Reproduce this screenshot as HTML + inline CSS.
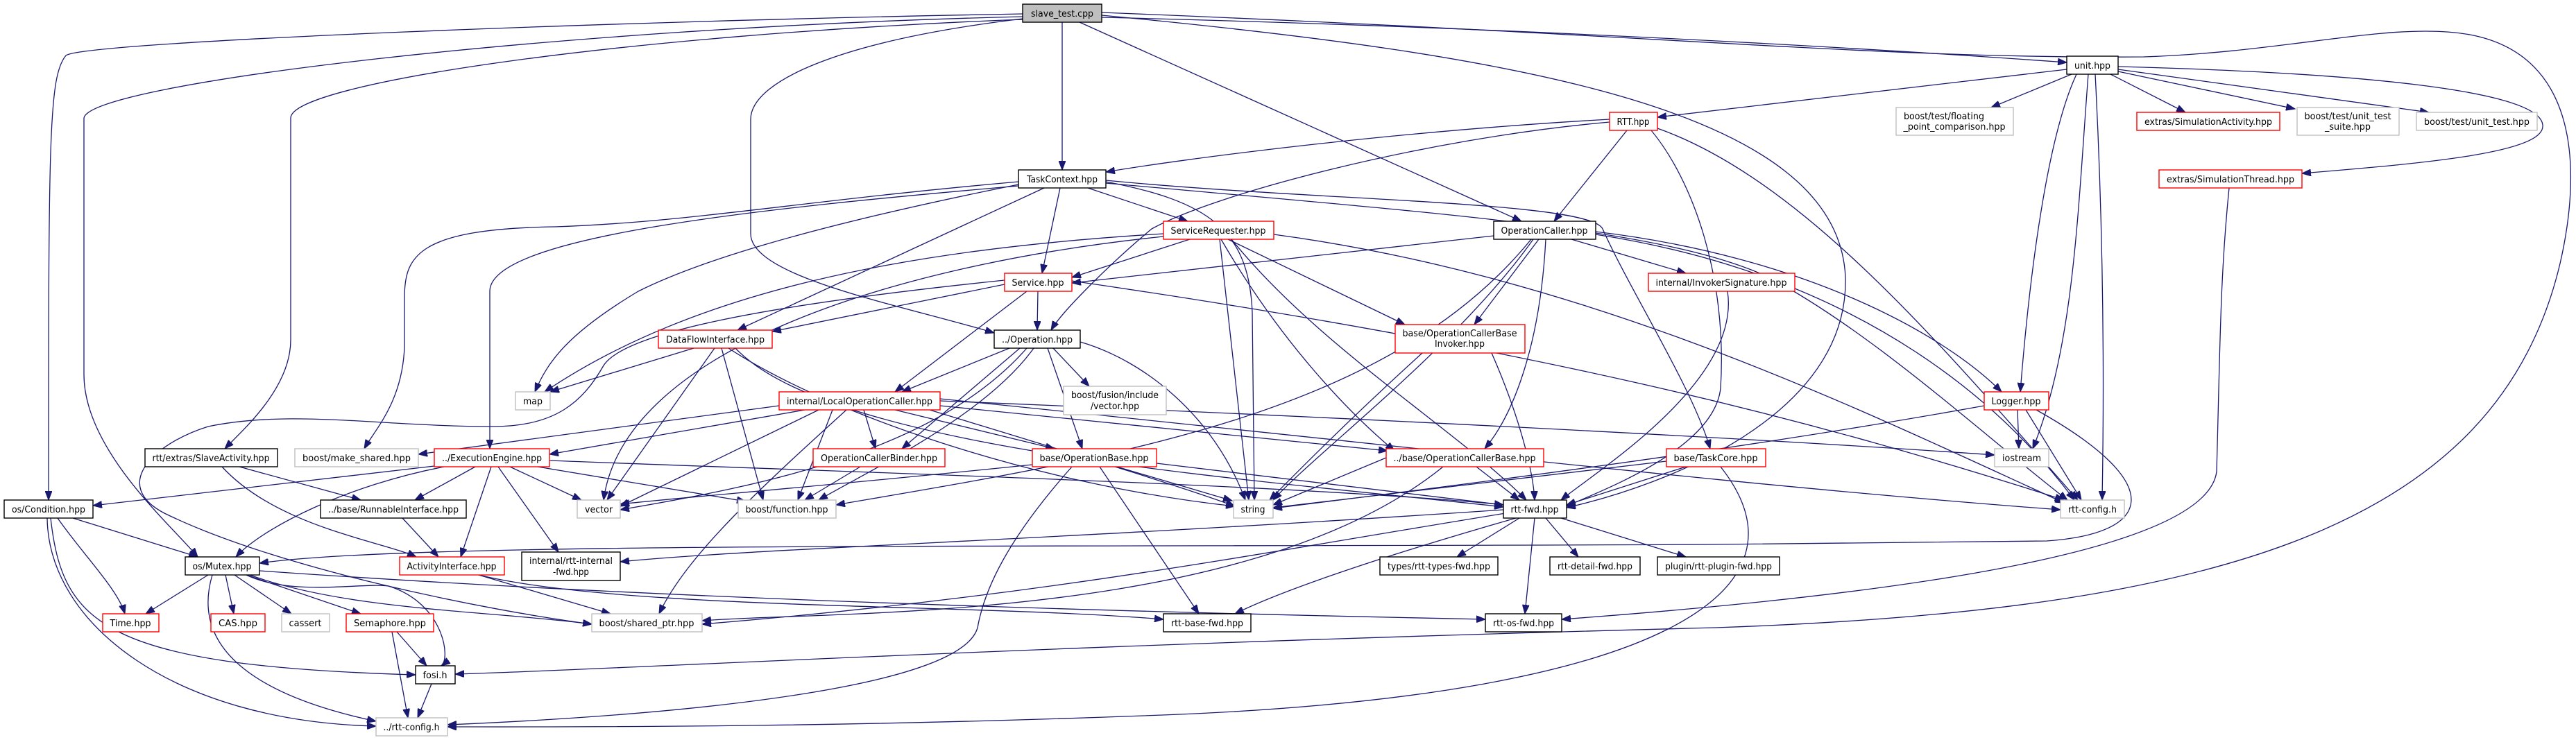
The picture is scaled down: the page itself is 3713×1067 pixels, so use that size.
<!DOCTYPE html>
<html><head><meta charset="utf-8"><style>
html,body{margin:0;padding:0;background:#fff;}
svg{display:block;}
text{font-family:"DejaVu Sans","Liberation Sans",sans-serif;font-size:13px;fill:#000;}
.e{fill:none;stroke:#191970;stroke-width:1.3;marker-end:url(#a);}
.b{fill:#fff;stroke:#000;stroke-width:1.4;}
.r{fill:#fff;stroke:#ff0000;stroke-width:1.4;}
.g{fill:#fff;stroke:#bfbfbf;stroke-width:1.4;}
</style></head><body>
<svg width="3713" height="1067" viewBox="0 0 3713 1067" xmlns="http://www.w3.org/2000/svg">
<defs><marker id="a" markerUnits="userSpaceOnUse" markerWidth="14" markerHeight="10" refX="13" refY="5" orient="auto"><path d="M0,0 L13,5 L0,10 z" fill="#191970" stroke="#191970"/></marker></defs>
<g>
<!-- slave_test -->
<path class="e" d="M1531,32 L1531,245"/>
<path class="e" d="M1556,32 L2193,319"/>
<path class="e" d="M1588,25 C2200,40 2700,70 2979,90"/>
<path class="e" d="M1474,20 C900,30 120,60 95,80 C70,110 70,200 70,721"/>
<path class="e" d="M1474,24 C800,40 130,120 121,170 L121,540 C121,650 250,760 285,803"/>
<path class="e" d="M1474,28 C900,50 420,120 419,170 L419,490 C419,560 350,620 324,647"/>
<path class="e" d="M1474,27 C1200,60 1082,120 1082,172 L1082,337 C1082,400 1300,440 1433,480"/>
<path class="e" d="M1588,22 C2200,80 2650,160 2660,400 C2665,600 2400,700 2258,732"/>
<path class="e" d="M1588,18 C2400,50 2700,85 3090,82 C3300,75 3450,30 3560,50 C3720,80 3720,250 3690,380 C3600,760 3200,880 2473,905 C1500,930 900,965 656,972"/>
<!-- unit -->
<path class="e" d="M2979,100 L2389,169"/>
<path class="e" d="M2986,107 L2870,155"/>
<path class="e" d="M3042,107 L3150,162"/>
<path class="e" d="M3053,103 L3308,157"/>
<path class="e" d="M3053,100 L3501,162"/>
<path class="e" d="M3053,96 C3400,105 3660,130 3665,180 C3670,220 3500,235 3318,250"/>
<path class="e" d="M2993,107 C2950,200 2925,400 2912,565"/>
<path class="e" d="M3010,107 C2995,300 2990,500 2930,647"/>
<path class="e" d="M3020,107 C3030,300 3034,500 3030,721"/>
<!-- RTT -->
<path class="e" d="M2320,172 C2000,190 1700,230 1594,248"/>
<path class="e" d="M2345,188 L2240,319"/>
<path class="e" d="M2320,176 C2050,200 1750,280 1660,330 C1600,380 1530,450 1515,476"/>
<path class="e" d="M2380,188 C2440,260 2490,400 2480,560 C2470,650 2300,710 2258,730"/>
<path class="e" d="M2389,185 C2600,260 2800,500 2995,721"/>
<!-- TaskContext -->
<path class="e" d="M1568,271 L1712,319"/>
<path class="e" d="M1528,271 L1502,394"/>
<path class="e" d="M1505,271 L1063,476"/>
<path class="e" d="M1468,268 C1100,300 706,340 706,420 L706,647"/>
<path class="e" d="M1468,262 C1150,290 1000,320 800,327 C600,330 583,370 583,430 L583,500 C580,580 540,620 525,647"/>
<path class="e" d="M1468,266 C1150,330 1000,380 920,420 C820,480 790,520 771,565"/>
<path class="e" d="M1594,262 C1740,290 1800,330 1805,450 L1808,721"/>
<path class="e" d="M1594,260 C1900,290 2290,290 2310,330 C2350,420 2440,560 2465,647"/>
<path class="e" d="M1594,264 C2100,310 2400,330 2550,400 C2700,480 2850,620 2980,721"/>
<!-- ServiceRequester -->
<path class="e" d="M1715,345 L1545,400"/>
<path class="e" d="M1677,337 C1300,360 1000,420 785,565"/>
<path class="e" d="M1677,341 C1300,380 900,500 870,721"/>
<path class="e" d="M1758,345 L1800,721"/>
<path class="e" d="M1770,345 L2025,468"/>
<path class="e" d="M1775,345 C1900,500 2100,620 2200,721"/>
<path class="e" d="M1836,338 C2300,400 2700,600 2975,725"/>
<path class="e" d="M1760,345 C1850,500 1950,600 2010,650"/>
<!-- OperationCaller -->
<path class="e" d="M2153,340 L1545,408"/>
<path class="e" d="M2265,345 L2430,394"/>
<path class="e" d="M2218,345 L2125,468"/>
<path class="e" d="M2228,345 C2220,500 2180,600 2140,647"/>
<path class="e" d="M2210,345 C2100,500 1900,650 1835,721"/>
<path class="e" d="M2300,334 C2600,370 2800,480 2885,565"/>
<path class="e" d="M2207,345 C2000,600 1600,660 1205,728"/>
<path class="e" d="M2300,338 C2700,400 2900,600 2990,721"/>
<path class="e" d="M2490,420 C2510,550 2300,680 2250,721"/>
<!-- Service -->
<path class="e" d="M1496,420 L1495,476"/>
<path class="e" d="M1448,410 L1113,478"/>
<path class="e" d="M1480,420 L1290,565"/>
<path class="e" d="M1448,404 C1100,440 900,480 870,527 C840,580 800,615 711,615 C550,615 420,590 300,615 C220,640 160,700 237,740 C400,820 700,880 853,900"/>
<path class="e" d="M1545,405 C2200,500 2600,600 2975,721"/>
<!-- Operation -->
<path class="e" d="M1455,502 L1300,565"/>
<path class="e" d="M1470,502 L1300,647"/>
<path class="e" d="M1510,502 L1560,647"/>
<path class="e" d="M1518,502 L1570,557"/>
<path class="e" d="M1557,493 C1650,520 1750,600 1795,721"/>
<path class="e" d="M1480,502 C1350,650 1100,700 894,735"/>
<path class="e" d="M1490,502 C1420,600 1250,680 1180,721"/>
<!-- OCBInvoker -->
<path class="e" d="M2050,509 C1950,600 1870,680 1830,721"/>
<path class="e" d="M2150,509 C2190,600 2210,680 2212,721"/>
<!-- DataFlow -->
<path class="e" d="M1000,502 L793,565"/>
<path class="e" d="M1030,502 L875,721"/>
<path class="e" d="M1040,502 L1100,721"/>
<path class="e" d="M1050,502 C1200,600 1500,700 1780,730"/>
<path class="e" d="M1060,502 C1200,650 1800,690 2167,731"/>
<!-- LocalOC -->
<path class="e" d="M1160,591 L792,655"/>
<path class="e" d="M1123,585 L603,655"/>
<path class="e" d="M1245,591 L1262,647"/>
<path class="e" d="M1290,591 L1520,647"/>
<path class="e" d="M1355,585 L2000,650"/>
<path class="e" d="M1200,591 L1150,721"/>
<path class="e" d="M1220,591 C1100,700 990,800 950,885"/>
<path class="e" d="M1340,591 C1500,640 1700,700 1780,730"/>
<path class="e" d="M1355,578 C1900,600 2500,630 2875,656"/>
<path class="e" d="M1355,575 C2000,640 2500,700 2970,735"/>
<path class="e" d="M1180,591 L894,730"/>
<!-- ExecEngine -->
<path class="e" d="M626,672 L134,729"/>
<path class="e" d="M640,673 C500,700 380,760 340,803"/>
<path class="e" d="M685,673 L598,721"/>
<path class="e" d="M708,673 L664,803"/>
<path class="e" d="M735,673 L838,721"/>
<path class="e" d="M718,673 L805,796"/>
<path class="e" d="M775,673 L1075,723"/>
<path class="e" d="M792,664 C1200,680 1900,700 2167,728"/>
<path class="e" d="M1240,673 L1160,721"/>
<!-- OperationBase -->
<path class="e" d="M1488,670 C1200,700 950,720 894,727"/>
<path class="e" d="M1610,673 L1776,722"/>
<path class="e" d="M1667,668 L2167,728"/>
<path class="e" d="M1585,673 L1728,885"/>
<path class="e" d="M1545,673 C1450,780 1420,850 1410,900 C1400,990 1000,1030 645,1045"/>
<!-- OCBase -->
<path class="e" d="M2128,673 L2190,721"/>
<path class="e" d="M2080,673 C1800,900 1200,880 1012,895"/>
<path class="e" d="M1998,660 L1835,728"/>
<!-- TaskCore -->
<path class="e" d="M2402,665 L1835,732"/>
<path class="e" d="M2430,673 L2258,728"/>
<path class="e" d="M2480,673 C2620,850 2400,1000 1700,1030 C1200,1050 800,1048 645,1048"/>
<!-- Logger -->
<path class="e" d="M2908,591 L2910,647"/>
<path class="e" d="M2920,591 L3000,721"/>
<path class="e" d="M2860,585 C2500,650 2100,700 1835,733"/>
<path class="e" d="M2935,591 C3130,700 3100,770 2950,780 L2473,785 C1500,790 600,780 374,812"/>
<!-- SlaveActivity / Runnable -->
<path class="e" d="M345,673 L520,721"/>
<path class="e" d="M320,673 C400,760 550,780 600,803"/>
<path class="e" d="M580,747 L632,803"/>
<!-- Condition -->
<path class="e" d="M105,747 L285,803"/>
<path class="e" d="M83,747 C120,800 170,850 180,885"/>
<path class="e" d="M73,747 C90,900 150,960 599,973"/>
<path class="e" d="M68,747 C70,900 250,1040 542,1047"/>
<!-- Mutex -->
<path class="e" d="M300,829 L210,885"/>
<path class="e" d="M325,829 L337,885"/>
<path class="e" d="M338,829 L420,885"/>
<path class="e" d="M355,829 L520,885"/>
<path class="e" d="M355,829 C420,860 520,840 560,845 C640,870 650,950 636,960"/>
<path class="e" d="M306,829 C270,950 400,1010 542,1040"/>
<path class="e" d="M360,829 C500,880 700,880 853,900"/>
<path class="e" d="M374,823 C900,860 1500,880 2141,893"/>
<!-- ActivityInterface -->
<path class="e" d="M690,829 L880,885"/>
<path class="e" d="M690,829 C900,880 1400,870 1677,893"/>
<path class="e" d="M572,911 L615,960"/>
<path class="e" d="M565,911 L588,1035"/>
<path class="e" d="M622,986 L602,1035"/>
<!-- rtt-fwd -->
<path class="e" d="M2190,747 L2100,803"/>
<path class="e" d="M2228,747 L2275,803"/>
<path class="e" d="M2250,747 L2430,803"/>
<path class="e" d="M2212,747 L2198,885"/>
<path class="e" d="M2185,747 C2000,800 1850,850 1780,885"/>
<path class="e" d="M2167,735 C1500,780 1100,790 894,810"/>
<path class="e" d="M2170,740 C1800,800 1500,860 1012,900"/>
<path class="e" d="M3213,271 C3200,400 3200,500 3195,680 C3180,800 2700,860 2251,893"/>
</g>
<g>
<rect x="1474" y="6" width="114" height="26" fill="#bfbfbf" stroke="#000" stroke-width="1.4"/><text x="1531" y="24" text-anchor="middle" textLength="90" lengthAdjust="spacingAndGlyphs">slave_test.cpp</text>
<rect class="b" x="1468" y="245" width="126" height="26"/><text x="1531" y="263" text-anchor="middle" textLength="102" lengthAdjust="spacingAndGlyphs">TaskContext.hpp</text>
<rect class="r" x="2320" y="162" width="69" height="26"/><text x="2354" y="180" text-anchor="middle" textLength="47" lengthAdjust="spacingAndGlyphs">RTT.hpp</text>
<rect class="r" x="1677" y="319" width="159" height="26"/><text x="1756" y="337" text-anchor="middle" textLength="137" lengthAdjust="spacingAndGlyphs">ServiceRequester.hpp</text>
<rect class="b" x="2153" y="319" width="147" height="26"/><text x="2226" y="337" text-anchor="middle" textLength="125" lengthAdjust="spacingAndGlyphs">OperationCaller.hpp</text>
<rect class="r" x="2376" y="394" width="211" height="26"/><text x="2481" y="412" text-anchor="middle" textLength="189" lengthAdjust="spacingAndGlyphs">internal/InvokerSignature.hpp</text>
<rect class="r" x="1448" y="394" width="97" height="26"/><text x="1496" y="412" text-anchor="middle" textLength="75" lengthAdjust="spacingAndGlyphs">Service.hpp</text>
<rect class="b" x="1433" y="476" width="124" height="26"/><text x="1495" y="494" text-anchor="middle" textLength="102" lengthAdjust="spacingAndGlyphs">../Operation.hpp</text>
<rect class="r" x="2011" y="468" width="187" height="41"/><text x="2104" y="485" text-anchor="middle" textLength="165" lengthAdjust="spacingAndGlyphs">base/OperationCallerBase</text><text x="2104" y="500" text-anchor="middle" textLength="72" lengthAdjust="spacingAndGlyphs">Invoker.hpp</text>
<rect class="b" x="2979" y="81" width="74" height="26"/><text x="3016" y="99" text-anchor="middle" textLength="52" lengthAdjust="spacingAndGlyphs">unit.hpp</text>
<rect class="g" x="2733" y="155" width="169" height="40"/><text x="2744" y="172" textLength="116" lengthAdjust="spacingAndGlyphs">boost/test/floating</text><text x="2817" y="187" text-anchor="middle" textLength="147" lengthAdjust="spacingAndGlyphs">_point_comparison.hpp</text>
<rect class="r" x="3080" y="162" width="206" height="26"/><text x="3183" y="180" text-anchor="middle" textLength="184" lengthAdjust="spacingAndGlyphs">extras/SimulationActivity.hpp</text>
<rect class="g" x="3311" y="155" width="147" height="40"/><text x="3384" y="172" text-anchor="middle" textLength="125" lengthAdjust="spacingAndGlyphs">boost/test/unit_test</text><text x="3384" y="187" text-anchor="middle" textLength="66" lengthAdjust="spacingAndGlyphs">_suite.hpp</text>
<rect class="g" x="3483" y="162" width="174" height="26"/><text x="3570" y="180" text-anchor="middle" textLength="152" lengthAdjust="spacingAndGlyphs">boost/test/unit_test.hpp</text>
<rect class="r" x="3112" y="245" width="206" height="26"/><text x="3215" y="263" text-anchor="middle" textLength="184" lengthAdjust="spacingAndGlyphs">extras/SimulationThread.hpp</text>
<rect class="r" x="949" y="476" width="164" height="26"/><text x="1031" y="494" text-anchor="middle" textLength="142" lengthAdjust="spacingAndGlyphs">DataFlowInterface.hpp</text>
<rect class="g" x="743" y="565" width="50" height="26"/><text x="768" y="583" text-anchor="middle" textLength="28" lengthAdjust="spacingAndGlyphs">map</text>
<rect class="r" x="1123" y="565" width="232" height="26"/><text x="1239" y="583" text-anchor="middle" textLength="210" lengthAdjust="spacingAndGlyphs">internal/LocalOperationCaller.hpp</text>
<rect class="g" x="1533" y="557" width="148" height="41"/><text x="1607" y="574" text-anchor="middle" textLength="126" lengthAdjust="spacingAndGlyphs">boost/fusion/include</text><text x="1607" y="590" text-anchor="middle" textLength="70" lengthAdjust="spacingAndGlyphs">/vector.hpp</text>
<rect class="b" x="209" y="647" width="191" height="26"/><text x="304" y="665" text-anchor="middle" textLength="169" lengthAdjust="spacingAndGlyphs">rtt/extras/SlaveActivity.hpp</text>
<rect class="g" x="425" y="647" width="178" height="26"/><text x="514" y="665" text-anchor="middle" textLength="156" lengthAdjust="spacingAndGlyphs">boost/make_shared.hpp</text>
<rect class="r" x="626" y="647" width="166" height="26"/><text x="709" y="665" text-anchor="middle" textLength="144" lengthAdjust="spacingAndGlyphs">../ExecutionEngine.hpp</text>
<rect class="r" x="1172" y="647" width="190" height="26"/><text x="1267" y="665" text-anchor="middle" textLength="168" lengthAdjust="spacingAndGlyphs">OperationCallerBinder.hpp</text>
<rect class="r" x="1488" y="647" width="179" height="26"/><text x="1577" y="665" text-anchor="middle" textLength="157" lengthAdjust="spacingAndGlyphs">base/OperationBase.hpp</text>
<rect class="r" x="1998" y="647" width="227" height="26"/><text x="2111" y="665" text-anchor="middle" textLength="205" lengthAdjust="spacingAndGlyphs">../base/OperationCallerBase.hpp</text>
<rect class="r" x="2402" y="647" width="143" height="26"/><text x="2473" y="665" text-anchor="middle" textLength="121" lengthAdjust="spacingAndGlyphs">base/TaskCore.hpp</text>
<rect class="r" x="2860" y="565" width="93" height="26"/><text x="2906" y="583" text-anchor="middle" textLength="71" lengthAdjust="spacingAndGlyphs">Logger.hpp</text>
<rect class="g" x="2875" y="647" width="78" height="26"/><text x="2914" y="665" text-anchor="middle" textLength="56" lengthAdjust="spacingAndGlyphs">iostream</text>
<rect class="g" x="2970" y="721" width="92" height="26"/><text x="3016" y="739" text-anchor="middle" textLength="70" lengthAdjust="spacingAndGlyphs">rtt-config.h</text>
<rect class="b" x="6" y="721" width="128" height="26"/><text x="70" y="739" text-anchor="middle" textLength="106" lengthAdjust="spacingAndGlyphs">os/Condition.hpp</text>
<rect class="b" x="462" y="721" width="210" height="26"/><text x="567" y="739" text-anchor="middle" textLength="188" lengthAdjust="spacingAndGlyphs">../base/RunnableInterface.hpp</text>
<rect class="g" x="832" y="721" width="62" height="26"/><text x="863" y="739" text-anchor="middle" textLength="40" lengthAdjust="spacingAndGlyphs">vector</text>
<rect class="g" x="1064" y="721" width="141" height="26"/><text x="1134" y="739" text-anchor="middle" textLength="119" lengthAdjust="spacingAndGlyphs">boost/function.hpp</text>
<rect class="g" x="1778" y="721" width="57" height="26"/><text x="1806" y="739" text-anchor="middle" textLength="35" lengthAdjust="spacingAndGlyphs">string</text>
<rect class="b" x="2167" y="721" width="91" height="26"/><text x="2212" y="739" text-anchor="middle" textLength="69" lengthAdjust="spacingAndGlyphs">rtt-fwd.hpp</text>
<rect class="b" x="267" y="803" width="107" height="26"/><text x="320" y="821" text-anchor="middle" textLength="85" lengthAdjust="spacingAndGlyphs">os/Mutex.hpp</text>
<rect class="r" x="576" y="803" width="151" height="26"/><text x="651" y="821" text-anchor="middle" textLength="129" lengthAdjust="spacingAndGlyphs">ActivityInterface.hpp</text>
<rect class="b" x="752" y="796" width="142" height="41"/><text x="823" y="813" text-anchor="middle" textLength="120" lengthAdjust="spacingAndGlyphs">internal/rtt-internal</text><text x="823" y="829" text-anchor="middle" textLength="52" lengthAdjust="spacingAndGlyphs">-fwd.hpp</text>
<rect class="b" x="1989" y="803" width="170" height="26"/><text x="2074" y="821" text-anchor="middle" textLength="148" lengthAdjust="spacingAndGlyphs">types/rtt-types-fwd.hpp</text>
<rect class="b" x="2234" y="803" width="130" height="26"/><text x="2299" y="821" text-anchor="middle" textLength="108" lengthAdjust="spacingAndGlyphs">rtt-detail-fwd.hpp</text>
<rect class="b" x="2389" y="803" width="176" height="26"/><text x="2477" y="821" text-anchor="middle" textLength="154" lengthAdjust="spacingAndGlyphs">plugin/rtt-plugin-fwd.hpp</text>
<rect class="r" x="148" y="885" width="81" height="26"/><text x="188" y="903" text-anchor="middle" textLength="59" lengthAdjust="spacingAndGlyphs">Time.hpp</text>
<rect class="r" x="304" y="885" width="78" height="26"/><text x="343" y="903" text-anchor="middle" textLength="56" lengthAdjust="spacingAndGlyphs">CAS.hpp</text>
<rect class="g" x="406" y="885" width="69" height="26"/><text x="440" y="903" text-anchor="middle" textLength="47" lengthAdjust="spacingAndGlyphs">cassert</text>
<rect class="r" x="499" y="885" width="126" height="26"/><text x="562" y="903" text-anchor="middle" textLength="104" lengthAdjust="spacingAndGlyphs">Semaphore.hpp</text>
<rect class="g" x="853" y="885" width="159" height="26"/><text x="932" y="903" text-anchor="middle" textLength="137" lengthAdjust="spacingAndGlyphs">boost/shared_ptr.hpp</text>
<rect class="b" x="1677" y="885" width="126" height="26"/><text x="1740" y="903" text-anchor="middle" textLength="104" lengthAdjust="spacingAndGlyphs">rtt-base-fwd.hpp</text>
<rect class="b" x="2141" y="885" width="110" height="26"/><text x="2196" y="903" text-anchor="middle" textLength="88" lengthAdjust="spacingAndGlyphs">rtt-os-fwd.hpp</text>
<rect class="b" x="599" y="960" width="57" height="26"/><text x="627" y="978" text-anchor="middle" textLength="35" lengthAdjust="spacingAndGlyphs">fosi.h</text>
<rect class="g" x="542" y="1035" width="103" height="26"/><text x="593" y="1053" text-anchor="middle" textLength="81" lengthAdjust="spacingAndGlyphs">../rtt-config.h</text>
</g>
</svg>
</body></html>
